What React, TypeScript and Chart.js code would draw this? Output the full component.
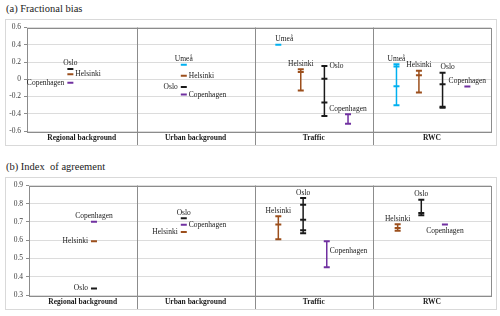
import React, { useEffect, useRef } from 'react';
import { Chart, registerables } from 'chart.js';

Chart.register(...registerables);

const SECTIONS = ['Regional background', 'Urban background', 'Traffic', 'RWC'];
const CITIES = ['Umeå', 'Helsinki', 'Oslo', 'Copenhagen'];
const CITY_COLORS = ['#00B0F0', '#9C4F1C', '#1A1A1A', '#7030A0'];

// (a) Fractional bias: station values per section (null = no data)
const fbUmea = [null, [0.167], [0.40], [0.174, 0.148, -0.08, -0.30]];
const fbHelsinki = [[0.057], [0.042], [0.117, 0.085, -0.13], [0.10, 0.045, -0.155]];
const fbOslo = [[0.12], [-0.09], [0.153, 0.006, -0.27, -0.425], [0.076, -0.057, -0.318, -0.33]];
const fbCopenhagen = [[-0.04], [-0.178], [-0.405, -0.515], [-0.083]];

// (b) Index of agreement
const iaUmea = [null, null, null, null];
const iaHelsinki = [[0.595], [0.645], [0.731, 0.686, 0.605], [0.688, 0.667, 0.652]];
const iaOslo = [[0.336], [0.72], [0.831, 0.795, 0.713, 0.655, 0.638], [0.822, 0.749, 0.737]];
const iaCopenhagen = [[0.702], [0.685], [0.595, 0.452], [0.686]];

// layout: slot of each city inside a section, and label placement
const fbSlots = [[null, 0.40, 0.20, 0.20], [0.44, 0.40, 0.39, 0.39], [0.44, 0.40, 0.59, 0.59], [0.44, 0.40, 0.79, 0.80]];
const fbSides = [[null, 'above', 'aboveStart', 'above'], ['right', 'right', 'above', 'above'], ['above', 'left', 'right', 'aboveRight'], ['left', 'right', 'above', 'above']];
const iaSlots = [[null, null, null, null], [0.64, 0.40, 0.20, 0.21], [0.64, 0.40, 0.41, 0.41], [0.64, 0.40, 0.61, 0.61]];
const iaSides = [[null, null, null, null], ['left', 'left', 'above', 'above'], ['left', 'above', 'above', 'above'], ['above', 'right', 'rightMid', 'below']];

const SERIF = '"Liberation Serif", "Times New Roman", serif';
const FRAME = '#8c8c8c';

const framePlugin = {
  id: 'frame',
  beforeDatasetsDraw(chart: any) {
    const { ctx, chartArea: a } = chart;
    const xs = chart.scales.x;
    ctx.save();
    ctx.strokeStyle = FRAME;
    ctx.lineWidth = 1;
    ctx.strokeRect(Math.round(a.left) + 0.5, Math.round(a.top) + 0.5, Math.round(a.right - a.left), Math.round(a.bottom - a.top));
    for (let i = 1; i < 4; i++) {
      const px = Math.round(xs.getPixelForValue(i)) + 0.5;
      ctx.beginPath();
      ctx.moveTo(px, a.top);
      ctx.lineTo(px, chart.height);
      ctx.stroke();
    }
    ctx.restore();
  },
};

const labelPlugin = {
  id: 'cityLabels',
  afterDatasetsDraw(chart: any) {
    const { ctx } = chart;
    ctx.save();
    ctx.font = `7.5px ${SERIF}`;
    ctx.fillStyle = '#1a1a1a';
    chart.data.datasets.forEach((ds: any, i: number) => {
      const meta = chart.getDatasetMeta(i);
      const pts = meta.data;
      if (!pts.length) return;
      const x = pts[0].x;
      const ys = pts.map((p: any) => p.y);
      const top = Math.min(...ys);
      const bot = Math.max(...ys);
      const side = ds.labelSide;
      const t = ds.labelText;
      if (side === 'above') {
        ctx.textAlign = 'center'; ctx.textBaseline = 'alphabetic';
        ctx.fillText(t, x, top - 3.5);
      } else if (side === 'aboveStart') {
        ctx.textAlign = 'left'; ctx.textBaseline = 'alphabetic';
        ctx.fillText(t, x - 3, top - 3.5);
      } else if (side === 'aboveRight') {
        ctx.textAlign = 'left'; ctx.textBaseline = 'alphabetic';
        ctx.fillText(t, x - 2, top - 3.5);
      } else if (side === 'left') {
        ctx.textAlign = 'right'; ctx.textBaseline = 'middle';
        ctx.fillText(t, x - 6, top);
      } else if (side === 'right') {
        ctx.textAlign = 'left'; ctx.textBaseline = 'middle';
        ctx.fillText(t, x + 5, top);
      } else if (side === 'rightMid') {
        ctx.textAlign = 'left'; ctx.textBaseline = 'middle';
        ctx.fillText(t, x + 3, (top + bot) / 2 - 3);
      } else if (side === 'below') {
        ctx.textAlign = 'center'; ctx.textBaseline = 'top';
        ctx.fillText(t, x, bot + 3);
      }
    });
    ctx.restore();
  },
};

type PanelProps = {
  values: any[][];
  slots: any[][];
  sides: any[][];
  yMin: number;
  yMax: number;
  yStep: number;
  xMin: number;
  yAxisWidth: number;
  topPad: number;
  width: number;
  height: number;
};

function Panel(p: PanelProps) {
  const ref = useRef<HTMLCanvasElement>(null);
  useEffect(() => {
    const datasets: any[] = [];
    p.values.forEach((cityVals, c) => {
      cityVals.forEach((vals: number[] | null, s: number) => {
        if (!vals) return;
        const slot = p.slots[c][s];
        datasets.push({
          data: vals.map((v) => ({ x: s + slot, y: v })),
          borderColor: CITY_COLORS[c],
          backgroundColor: CITY_COLORS[c],
          showLine: true,
          borderWidth: 1.5,
          pointStyle: 'line',
          pointRadius: 3,
          pointBorderWidth: 2,
          pointHoverRadius: 3,
          labelText: CITIES[c],
          labelSide: p.sides[c][s],
        });
      });
    });
    const chart = new Chart(ref.current!, {
      type: 'scatter',
      data: { datasets },
      options: {
        animation: false,
        responsive: false,
        events: [],
        layout: { padding: { top: p.topPad, right: 3, left: 0, bottom: 0 } },
        plugins: { legend: { display: false }, tooltip: { enabled: false }, title: { display: false } },
        scales: {
          x: {
            type: 'linear',
            min: p.xMin,
            max: 4,
            grid: { display: false, drawTicks: false },
            border: { display: false },
            afterBuildTicks: (scale: any) => {
              scale.ticks = [(p.xMin + 1) / 2, 1.5, 2.5, 3.5].map((v) => ({ value: v }));
            },
            afterFit: (scale: any) => { scale.height = 14; },
            ticks: {
              autoSkip: false,
              maxRotation: 0,
              padding: 3,
              color: '#1a1a1a',
              font: { family: SERIF, size: 7.5, weight: 'bold' },
              callback: (_v: any, i: number) => SECTIONS[i],
            },
          },
          y: {
            min: p.yMin,
            max: p.yMax,
            grid: { color: '#dcdcdc', lineWidth: 1, tickLength: 3, tickColor: FRAME },
            border: { display: false },
            afterFit: (scale: any) => { scale.width = p.yAxisWidth; },
            ticks: {
              stepSize: p.yStep,
              padding: 3,
              color: '#404040',
              font: { family: SERIF, size: 7.5 },
            },
          },
        },
      },
      plugins: [framePlugin, labelPlugin],
    } as any);
    return () => chart.destroy();
  }, []);
  return <canvas ref={ref} width={p.width} height={p.height} style={{ width: p.width, height: p.height, display: 'block' }} />;
}

export default function App() {
  const titleStyle: React.CSSProperties = {
    position: 'absolute', left: 6, fontFamily: SERIF, fontSize: 10.5, lineHeight: '12px', color: '#222', whiteSpace: 'pre',
  };
  const boxStyle: React.CSSProperties = {
    position: 'absolute', left: 5, width: 492, boxSizing: 'border-box', border: '1px solid #d9d9d9', background: '#fff',
  };
  return (
    <div style={{ position: 'fixed', left: 0, top: 0, width: 500, height: 316, background: '#fff', overflow: 'hidden' }}>
      <div style={{ ...titleStyle, top: 3 }}>(a) Fractional bias</div>
      <div style={{ ...boxStyle, top: 19, height: 127 }}>
        <Panel values={[fbUmea, fbHelsinki, fbOslo, fbCopenhagen]} slots={fbSlots} sides={fbSides}
          yMin={-0.6} yMax={0.6} yStep={0.2} xMin={0.073} yAxisWidth={21} topPad={6} width={490} height={125} />
      </div>
      <div style={{ ...titleStyle, top: 161 }}>(b) Index  of agreement</div>
      <div style={{ ...boxStyle, top: 177, height: 133 }}>
        <Panel values={[iaUmea, iaHelsinki, iaOslo, iaCopenhagen]} slots={iaSlots} sides={iaSides}
          yMin={0.3} yMax={0.9} yStep={0.1} xMin={0.09} yAxisWidth={23} topPad={7} width={490} height={131} />
      </div>
    </div>
  );
}
